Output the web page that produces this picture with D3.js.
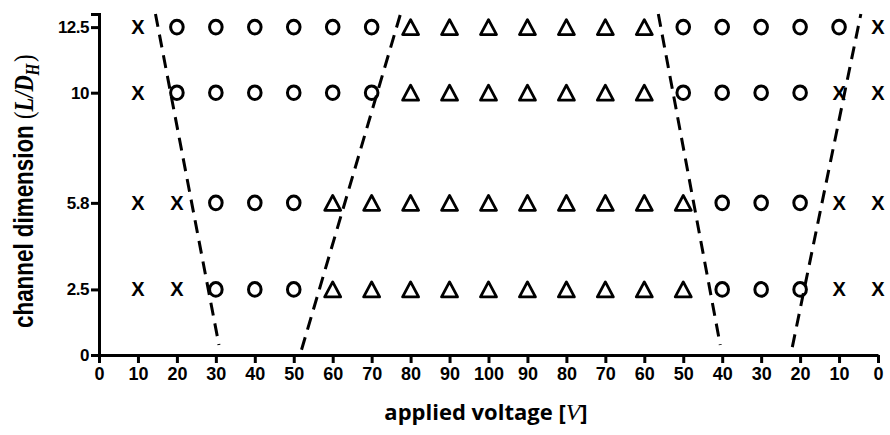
<!DOCTYPE html>
<html>
<head>
<meta charset="utf-8">
<script src="https://cdn.jsdelivr.net/npm/d3@7"></script>
<style>
  html, body { margin: 0; padding: 0; background: #fff; }
  svg { display: block; }
</style>
</head>
<body>
<svg id="chart" width="890" height="435"></svg>
<script>
// ---- data ----
const xTickLabels = ["0","10","20","30","40","50","60","70","80","90","100","90","80","70","60","50","40","30","20","10","0"];
const yTickValues = [0, 2.5, 5.8, 10, 12.5];
const rowValues = [12.5, 10, 5.8, 2.5];
// markers at x positions 1..20 (X = failure, O = circle, T = triangle)
const row125 = ["X","O","O","O","O","O","O","T","T","T","T","T","T","T","O","O","O","O","O","X"];
const row10  = ["X","O","O","O","O","O","O","T","T","T","T","T","T","T","O","O","O","O","X","X"];
const row58  = ["X","X","O","O","O","T","T","T","T","T","T","T","T","T","T","O","O","O","X","X"];
const row25  = ["X","X","O","O","O","T","T","T","T","T","T","T","T","T","T","O","O","O","X","X"];
const rowMarkers = [row125, row10, row58, row25];
// dashed boundary lines: [x position, y value]
const boundary1 = [[1.45, 13.0], [3.08, 0.38]];
const boundary2 = [[5.2, 0.2], [7.74, 13.0]];
const boundary3 = [[14.36, 13.0], [15.95, 0.38]];
const boundary4 = [[17.8, 0.3], [19.56, 13.0]];
const boundaries = [boundary1, boundary2, boundary3, boundary4];

// ---- chart ----
const svg = d3.select("#chart");
const x = d3.scaleLinear().domain([0, 20]).range([99, 878]);
const y = d3.scaleLinear().domain([0, 13]).range([355, 14]);

const tickFont = "'Liberation Sans', Arial, sans-serif";

// x axis
const xAxis = d3.axisBottom(x)
  .tickValues(d3.range(0, 21))
  .tickFormat((d, i) => xTickLabels[i])
  .tickSizeInner(8).tickSizeOuter(0).tickPadding(4);
const gx = svg.append("g").attr("transform", `translate(0,${y(0)})`).call(xAxis);
gx.select(".domain").attr("stroke", "#000").attr("stroke-width", 3);
gx.selectAll(".tick line").attr("stroke", "#000").attr("stroke-width", 3);
gx.selectAll(".tick text").attr("font-family", tickFont).attr("font-weight", "bold")
  .attr("font-size", 18).attr("fill", "#000");

// y axis
const yAxis = d3.axisLeft(y)
  .tickValues(yTickValues)
  .tickFormat(d => String(d))
  .tickSizeInner(8).tickSizeOuter(8).tickPadding(2);
const gy = svg.append("g").attr("transform", `translate(${x(0)},0)`).call(yAxis);
gy.select(".domain").attr("stroke", "#000").attr("stroke-width", 3).attr("fill", "none");
gy.selectAll(".tick line").attr("stroke", "#000").attr("stroke-width", 3);
gy.selectAll(".tick text").attr("font-family", tickFont).attr("font-weight", "bold")
  .attr("font-size", 17).attr("fill", "#000").style("letter-spacing", "-0.5px");

// dashed boundary lines
const line = d3.line().x(d => x(d[0])).y(d => y(d[1]));
svg.append("g").selectAll("path").data(boundaries).join("path")
  .attr("d", line)
  .attr("fill", "none").attr("stroke", "#000").attr("stroke-width", 3)
  .attr("stroke-dasharray", "13,8");

// markers
const markerFont = "'Liberation Sans', Arial, sans-serif";
const mg = svg.append("g");
rowValues.forEach((rv, ri) => {
  rowMarkers[ri].forEach((m, i) => {
    const cx = x(i + 1), cy = y(rv);
    if (m === "T") {
      const w = 16, h = 15;
      mg.append("path")
        .attr("d", `M${cx},${cy - h/2}L${cx + w/2},${cy + h/2}L${cx - w/2},${cy + h/2}Z`)
        .attr("fill", "none").attr("stroke", "#000").attr("stroke-width", 2.8)
        .attr("stroke-linejoin", "round");
    } else if (m === "O") {
      mg.append("ellipse").attr("cx", cx).attr("cy", cy)
        .attr("rx", 6.3).attr("ry", 6.8)
        .attr("fill", "none").attr("stroke", "#000").attr("stroke-width", 3);
    } else {
      mg.append("text").attr("x", cx).attr("y", cy)
        .attr("text-anchor", "middle").attr("dominant-baseline", "central")
        .attr("font-family", markerFont).attr("font-weight", "bold").attr("font-size", 20)
        .attr("fill", "#000").text("X");
    }
  });
});

// axis titles
const xt = svg.append("text")
  .attr("x", 486).attr("y", 420).attr("text-anchor", "middle")
  .attr("font-family", "'Open Sans', sans-serif").attr("font-weight", "bold")
  .attr("font-size", 22).attr("fill", "#000");
xt.append("tspan").text("applied voltage [");
xt.append("tspan").attr("font-family", "'Liberation Serif', serif").attr("font-style", "italic").attr("font-weight", "normal").attr("font-size", 24).text("V");
xt.append("tspan").text("]");

const yt = svg.append("text")
  .attr("transform", "translate(33,328) rotate(-90) scale(0.8,1)")
  .attr("text-anchor", "start")
  .attr("font-family", "'Liberation Sans', Arial, sans-serif").attr("font-weight", "bold")
  .attr("font-size", 28).attr("fill", "#000");
yt.append("tspan").text("channel dimension ");
yt.append("tspan").attr("font-family", "'Liberation Serif', serif").attr("font-weight", "normal").text("(");
yt.append("tspan").attr("font-family", "'Liberation Serif', serif").attr("font-style", "italic").text("L/D");
yt.append("tspan").attr("font-family", "'Liberation Serif', serif").attr("font-style", "italic")
  .attr("font-size", 19).attr("dy", 6).text("H");
yt.append("tspan").attr("font-family", "'Liberation Serif', serif").attr("font-weight", "normal")
  .attr("dy", -6).attr("dx", 2).text(")");
</script>
</body>
</html>
